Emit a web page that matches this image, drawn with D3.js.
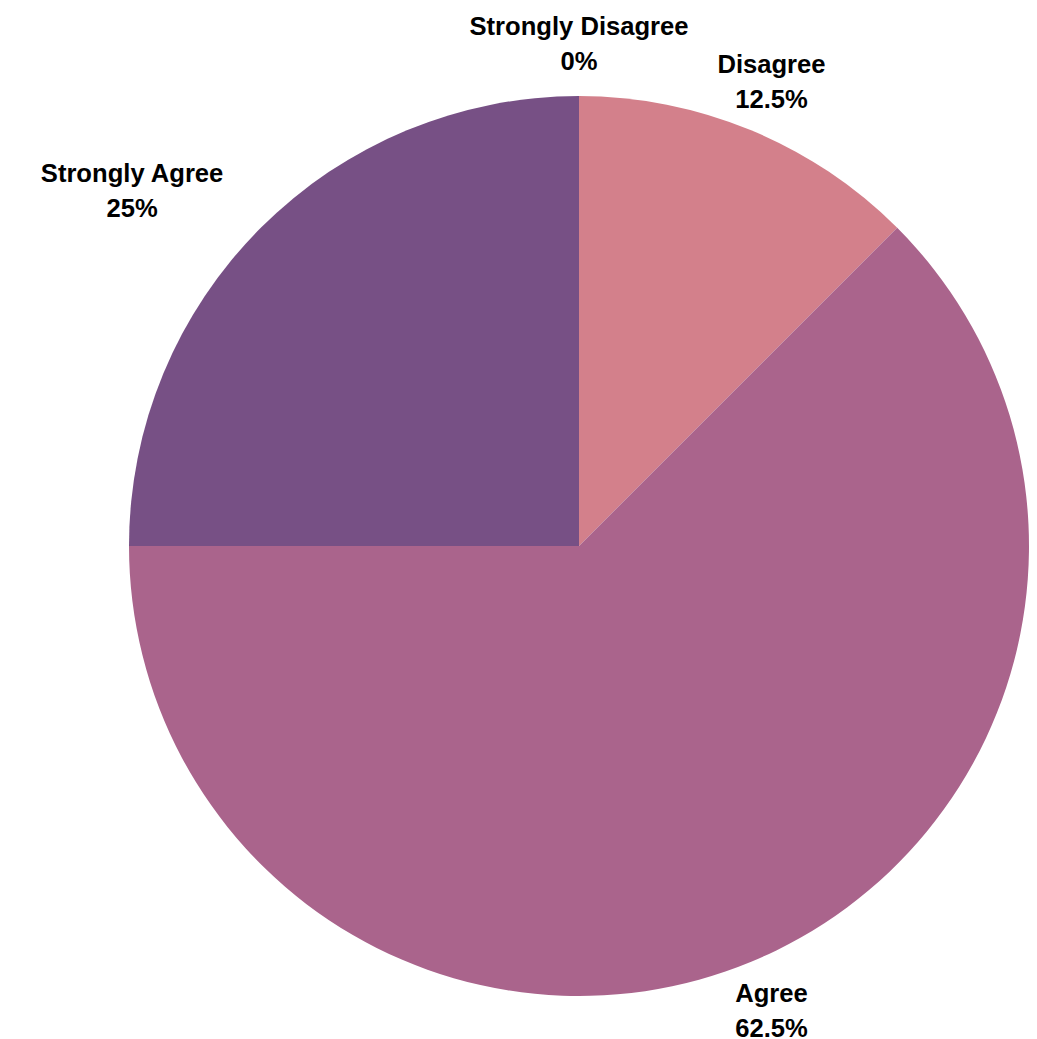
<!DOCTYPE html>
<html>
<head>
<meta charset="utf-8">
<script src="https://cdn.jsdelivr.net/npm/d3@7"></script>
<style>
  body { margin: 0; background: #fff; }
  text { font-family: "Liberation Sans", Arial, sans-serif; font-weight: bold; font-size: 25.6px; fill: #000; }
</style>
</head>
<body>
<script>
const categories = ['Strongly Disagree', 'Disagree', 'Agree', 'Strongly Agree'];
const values = [0, 12.5, 62.5, 25];
const colors = ['#e0a39a', '#d3808b', '#aa648c', '#775085'];

const width = 1037;
const height = 1039;
const cx = 579, cy = 546;
const radius = 450;
const labelRadius = 503;

const data = categories.map((c, i) => ({name: c, value: values[i], color: colors[i]}));

const svg = d3.select('body')
  .append('svg')
  .attr('width', width)
  .attr('height', height);

const g = svg.append('g')
  .attr('transform', `translate(${cx}, ${cy})`);

const pie = d3.pie()
  .value(d => d.value)
  .sort(null);

const arc = d3.arc()
  .innerRadius(0)
  .outerRadius(radius);

const arcs = pie(data);

g.selectAll('path')
  .data(arcs)
  .enter()
  .append('path')
  .attr('d', arc)
  .style('fill', d => d.data.color);

// labels: two lines, name + percent
arcs.forEach(d => {
  const mid = (d.startAngle + d.endAngle) / 2;
  const x = labelRadius * Math.sin(mid);
  const y = -labelRadius * Math.cos(mid);
  const lab = g.append('g');
  const t1 = lab.append('text')
    .attr('text-anchor', 'middle')
    .attr('dominant-baseline', 'central')
    .attr('y', -17.5)
    .text(d.data.name);
  const t2 = lab.append('text')
    .attr('text-anchor', 'middle')
    .attr('dominant-baseline', 'central')
    .attr('y', 17.5)
    .text(d.data.value + '%');
  const w = Math.max(t1.node().getComputedTextLength(), t2.node().getComputedTextLength());
  let ox = x;
  if (Math.sin(mid) < -0.5) ox = x - w / 2;
  else if (Math.sin(mid) > 0.5) ox = x + w / 2;
  lab.attr('transform', `translate(${ox}, ${y})`);
});
</script>
</body>
</html>
